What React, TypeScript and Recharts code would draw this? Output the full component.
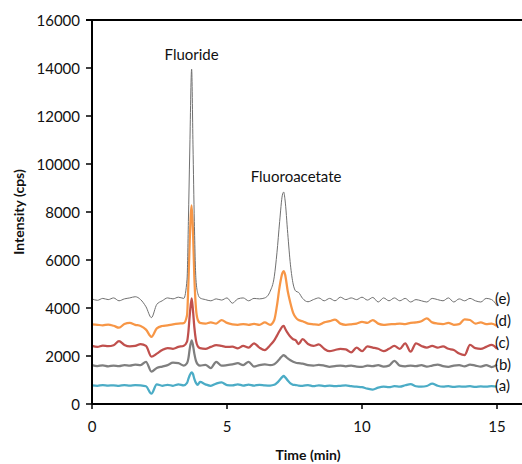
import React from 'react';
import { LineChart, Line, XAxis, YAxis, ReferenceDot } from 'recharts';

// Retention time (min)
const timeMin = [
  0, 0.2, 0.4, 0.6, 0.8, 1, 1.2, 1.4, 1.6, 1.8, 2, 2.2, 2.4, 2.6, 2.8, 3, 3.2, 3.4,
  3.52, 3.57, 3.62, 3.69, 3.74, 3.79, 3.85, 3.92,
  4, 4.2, 4.4, 4.6, 4.8, 5, 5.2, 5.4, 5.6, 5.8, 6, 6.2, 6.4, 6.6,
  6.75, 6.85, 6.95, 7.05, 7.1, 7.15, 7.25, 7.35, 7.45, 7.55, 7.65,
  7.8, 8, 8.2, 8.4, 8.6, 8.8, 9, 9.2, 9.4, 9.6, 9.8, 10, 10.2, 10.4, 10.6, 10.8, 11, 11.2, 11.4, 11.6,
  11.8, 12, 12.2, 12.4, 12.6, 12.8, 13, 13.2, 13.4, 13.6, 13.8, 14, 14.2, 14.4, 14.6, 14.8, 15,
];

// (a) cyan
const seriesA = [
  780, 760, 790, 770, 780, 760, 790, 770, 790, 780, 740, 430, 820, 760, 800, 760, 820, 780,
  880, 1050, 1200, 1320, 1250, 1050, 880, 800,
  920, 820, 760, 850, 900, 790, 780, 820, 770, 810, 770, 800, 780, 770,
  800, 880, 1000, 1130, 1170, 1120, 980, 860, 800, 790, 770,
  760, 790, 740, 780, 750, 770, 740, 760, 780, 740, 720, 700, 640, 600, 680, 720, 700, 740, 720, 780,
  830, 740, 720, 750, 850, 760, 720, 740, 710, 730, 720, 740, 710, 730, 720, 740, 720,
];

// (b) grey
const seriesB = [
  1620, 1580, 1610, 1570, 1600, 1580, 1620, 1600, 1640, 1620, 1760, 1350, 1500, 1560, 1620, 1720, 1700, 1600,
  1700, 1900, 2300, 2650, 2450, 2100, 1800, 1650,
  1600, 1630, 1500, 1760, 1600, 1620, 1650, 1700, 1620, 1760, 1560, 1620, 1650, 1620,
  1660, 1750, 1880, 2000, 2040, 2000, 1900, 1820, 1760, 1720, 1700,
  1680, 1620, 1600, 1630, 1600, 1550, 1580, 1600, 1570, 1600, 1560, 1550, 1600, 1580, 1620, 1560, 1600, 1800, 1600, 1570,
  1600, 1580, 1620, 1560, 1600, 1640, 1580, 1550, 1600, 1620, 1570, 1640, 1600, 1560, 1620, 1540, 1640,
];

// (c) red
const seriesC = [
  2420, 2380, 2430, 2410, 2450, 2620, 2460, 2400, 2420, 2500, 2420, 1970, 2100, 2250, 2330, 2300, 2380, 2430,
  2600, 3000, 3700, 4400, 3900, 3200, 2650, 2400,
  2330, 2300, 2380, 2450, 2420, 2380, 2390, 2320, 2420, 2350, 2530, 2350, 2250, 2450,
  2650, 2850, 3050, 3230, 3260, 3150, 2950, 2800, 2700, 2650, 2500,
  2700, 2500, 2420, 2480, 2300, 2200, 2250, 2300, 2280, 2150, 2350, 2200, 2400, 2350, 2300, 2200, 2300, 2420, 2300, 2530,
  2180, 2530, 2420, 2350, 2420, 2350, 2400, 2300, 2250, 2100, 2040, 2460, 2330, 2300, 2380, 2460, 2300,
];

// (d) orange
const seriesD = [
  3320, 3300, 3280, 3310, 3260, 3180, 3330, 3380, 3300, 3250, 3100, 2800, 3150, 3250, 3280, 3320, 3350, 3370,
  3700, 5000, 6800, 8280, 7200, 5300, 4000, 3500,
  3380, 3350, 3400, 3350, 3500, 3380, 3320, 3300, 3330, 3300, 3340, 3300, 3400, 3300,
  3500, 4100, 4900, 5450, 5540, 5400, 4700, 4200, 3800, 3600, 3500,
  3450, 3350, 3320, 3300, 3400, 3450, 3520, 3350, 3300, 3320, 3350, 3420, 3380, 3500, 3350, 3300, 3320, 3330, 3350, 3330,
  3380, 3400, 3450, 3570, 3400, 3350, 3330, 3380, 3300, 3330, 3530, 3500, 3350, 3400, 3330, 3350, 3250,
];

// (e) standard, thin line
const seriesE = [
  4380, 4320, 4400, 4350, 4420, 4300, 4380, 4420, 4470, 4350, 4050, 3600, 4150, 4300, 4420, 4380, 4450, 4400,
  5200, 7600, 10500, 13950, 10800, 7600, 5200, 4600,
  4420, 4350, 4300, 4380, 4330, 4420, 4200, 4380, 4420, 4300, 4400, 4380, 4420, 4700,
  5300, 6300, 7600, 8700, 8830, 8500, 7100, 5800, 5000, 4700, 4650,
  4400, 4260, 4350, 4420, 4300, 4400, 4300, 4450, 4350, 4420, 4350, 4450, 4330, 4440, 4250, 4420, 4300, 4420, 4300, 4400,
  4250, 4350, 4300, 4250, 4400, 4350, 4300, 4420, 4250, 4380, 4300, 4400, 4300, 4250, 4400, 4350, 4100,
];

const xTicks = [0, 5, 10, 15];
const yTicks = [0, 2000, 4000, 6000, 8000, 10000, 12000, 14000, 16000];
const yMax = 16000;

const peakNames = ['Fluoride', 'Fluoroacetate'];
const peakLabelTime = [3.69, 7.56];
const peakLabelValue = [14540, 9460];

const traceNames = ['(e)', '(d)', '(c)', '(b)', '(a)'];
const traceLabelValue = [4375, 3460, 2540, 1625, 750];

const data = timeMin.map((t, i) => ({
  t,
  a: seriesA[i],
  b: seriesB[i],
  c: seriesC[i],
  d: seriesD[i],
  e: seriesE[i],
}));

const FONT = 'Lato, "Open Sans", "DejaVu Sans", sans-serif';
const TXT = '#111';
const CHART_W = 524;

const YLabel = (props: any) => {
  const vb = props.viewBox || { x: 0, y: 20, width: 92, height: 384 };
  const x = vb.x + 18;
  const y = vb.y + vb.height / 2;
  return (
    <text
      x={x}
      y={y}
      transform={`rotate(-90 ${x} ${y})`}
      textAnchor="middle"
      dominantBaseline="central"
      fontFamily={FONT}
      fontSize={14}
      fontWeight={700}
      fill={TXT}
    >
      Intensity (cps)
    </text>
  );
};

// Y tick; the top tick also draws the plot-area top border
const YTick = (props: any) => {
  const { x, y, payload } = props;
  const isTop = payload && payload.value === yMax;
  return (
    <g>
      {isTop && <line x1={x + 6} y1={y} x2={CHART_W} y2={y} stroke="#000" strokeWidth={2} />}
      <text x={x} y={y} textAnchor="end" dominantBaseline="central" fill={TXT} fontSize={15} fontFamily={FONT}>
        {payload.value}
      </text>
    </g>
  );
};

export default function App() {
  return (
    <div style={{ position: 'absolute', left: 0, top: 0, width: 522, height: 464, overflow: 'hidden', background: '#fff' }}>
      <LineChart width={CHART_W} height={464} data={data} margin={{ top: 20, right: 0, bottom: 0, left: 0 }}>
        <XAxis
          dataKey="t"
          type="number"
          domain={[0, 16]}
          ticks={xTicks}
          height={60}
          tickSize={5}
          tickMargin={12}
          axisLine={{ stroke: '#000', strokeWidth: 2 }}
          tickLine={{ stroke: '#000', strokeWidth: 1.5 }}
          tick={{ fill: TXT, fontSize: 15, fontFamily: FONT }}
          label={{ value: 'Time (min)', position: 'insideBottom', offset: 4, fill: TXT, fontSize: 14, fontWeight: 700, fontFamily: FONT }}
        />
        <YAxis
          type="number"
          domain={[0, yMax]}
          ticks={yTicks}
          width={92}
          tickSize={6}
          tickMargin={6}
          axisLine={{ stroke: '#000', strokeWidth: 2 }}
          tickLine={{ stroke: '#000', strokeWidth: 1.5 }}
          tick={<YTick />}
          label={<YLabel />}
        />
        <Line dataKey="a" type="monotone" stroke="#4BACC6" strokeWidth={2.25} dot={false} isAnimationActive={false} />
        <Line dataKey="b" type="monotone" stroke="#7F7F7F" strokeWidth={2.25} dot={false} isAnimationActive={false} />
        <Line dataKey="c" type="monotone" stroke="#C0504D" strokeWidth={2.25} dot={false} isAnimationActive={false} />
        <Line dataKey="d" type="monotone" stroke="#F79646" strokeWidth={2.25} dot={false} isAnimationActive={false} />
        <Line dataKey="e" type="monotone" stroke="#707070" strokeWidth={1} dot={false} isAnimationActive={false} />
        {peakNames.map((n, i) => (
          <ReferenceDot
            key={n}
            x={peakLabelTime[i]}
            y={peakLabelValue[i]}
            r={0}
            fill="none"
            stroke="none"
            label={{ value: n, position: 'center', fill: TXT, fontSize: 15, fontFamily: FONT }}
          />
        ))}
        {traceNames.map((n, i) => (
          <ReferenceDot
            key={n}
            x={15}
            y={traceLabelValue[i]}
            r={0}
            fill="none"
            stroke="none"
            label={{ value: n, position: 'right', offset: -2, fill: TXT, fontSize: 15, fontFamily: FONT }}
          />
        ))}
      </LineChart>
    </div>
  );
}
